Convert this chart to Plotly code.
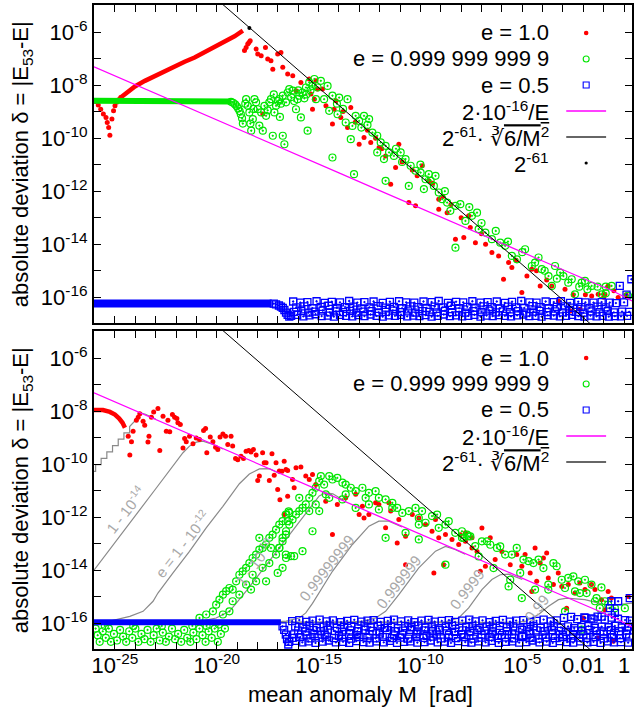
import plotly.graph_objects as go

# ---------------- axes -------------------------------------------------------
LOGM_RANGE = [-26.03, 0.39]      # log10 of mean anomaly M [rad]
LOGD_RANGE = [-16.97, -4.98]     # log10 of absolute deviation
x_tick_exp = list(range(-26, 1))
x_tick_text = {-25: "10<sup>-25</sup>", -20: "10<sup>-20</sup>", -15: "10<sup>-15</sup>",
               -10: "10<sup>-10</sup>", -5: "10<sup>-5</sup>", -2: "0.01", 0: "1"}
y_tick_exp = list(range(-17, -4))
y_tick_text = {-6: "10<sup>-6</sup>", -8: "10<sup>-8</sup>", -10: "10<sup>-10</sup>",
               -12: "10<sup>-12</sup>", -14: "10<sup>-14</sup>", -16: "10<sup>-16</sup>"}

# ---------------- data: (log10 M, log10 delta) ----------
# reference lines (same in both panels)
magenta_logM = [-26.03, -24, -22, -20, -18, -16, -14, -12, -10, -8, -6, -4, -3, -2, -1, -0.5, 0, 0.39]
magenta_logd = [-7.31, -7.98, -8.65, -9.31, -9.98, -10.65, -11.31, -11.98, -12.65, -13.31,
                -13.97, -14.63, -14.96, -15.28, -15.62, -15.78, -15.98, -16.14]
black_logM = [-19.75, -1.55]
black_logd = [-4.93, -17.07]
black_dot = [(-18.4, -5.85)]

# ---- top panel ----
top_red_dip = [(-25.95, -8.62), (-25.82, -8.75), (-25.70, -8.91), (-25.57, -9.09), (-25.44, -9.22),
               (-25.38, -9.41), (-25.31, -9.60), (-25.25, -9.89), (-25.15, -9.28), (-25.07, -8.97),
               (-25.00, -8.78), (-24.92, -8.65), (-24.82, -8.55), (-24.72, -8.47)]
top_red_rise = [(-24.72, -8.47), (-24.43, -8.28), (-24.02, -8.05), (-23.53, -7.84), (-23.04, -7.65),
                (-22.56, -7.46), (-22.07, -7.27), (-21.58, -7.12), (-21.09, -6.96), (-20.60, -6.77),
                (-20.11, -6.58), (-19.62, -6.37), (-19.13, -6.16), (-18.72, -5.95)]
top_green_plateau = [(-26.03, -8.59), (-22.0, -8.59), (-19.5, -8.60), (-19.3, -8.62)]
top_green_drop = [(-19.3, -8.63), (-19.2, -8.67), (-19.1, -8.73), (-19.02, -8.80), (-18.95, -8.88),
                  (-18.88, -8.98), (-18.82, -9.10), (-18.76, -9.25), (-18.72, -9.45)]
top_red_scatter = [
    (-18.64, -6.70), (-18.56, -6.58), (-18.48, -6.45), (-18.42, -6.39), (-18.36, -6.33), (-18.07, -6.64),
    (-17.99, -6.83), (-17.82, -6.89), (-17.61, -6.58), (-17.50, -7.02), (-17.34, -7.08), (-17.25, -7.40),
    (-17.01, -6.83), (-16.85, -6.77), (-16.76, -7.33), (-16.52, -7.58), (-16.27, -7.65), (-16.11, -8.21),
    (-15.87, -7.90), (-15.38, -8.34), (-15.21, -8.53), (-15.13, -7.84), (-15.05, -8.15), (-17.74, -9.09),
    (-15.30, -8.91), (-15.46, -7.77),
    (-14.81, -8.15), (-14.64, -8.78), (-14.24, -8.91), (-14.15, -8.59), (-14.32, -9.47), (-13.91, -9.22),
    (-13.58, -9.60), (-13.42, -8.84), (-13.01, -10.23), (-12.77, -9.98), (-12.44, -10.16), (-12.03, -10.35),
    (-11.71, -10.67), (-11.22, -11.11), (-11.06, -10.23), (-11.46, -11.74), (-10.57, -12.43), (-10.16, -11.42),
    (-9.91, -11.04), (-9.59, -11.61), (-9.10, -12.68), (-8.69, -12.81), (-8.28, -13.81), (-7.87, -13.75),
    (-7.55, -13.37), (-7.30, -13.94), (-6.49, -14.31), (-6.16, -14.44), (-5.92, -15.32), (-5.67, -14.69),
    (-5.51, -14.88), (-5.02, -15.82), (-4.77, -15.20), (-4.53, -14.94), (-4.12, -15.57), (-3.55, -15.57),
    (-3.22, -16.14), (-2.65, -16.52), (-2.16, -16.45), (-1.59, -15.95), (-1.27, -15.89), (-0.94, -15.89),
    (-0.78, -15.57), (-0.29, -16.01), (-9.10, -12.30), (-10.24, -12.55), (-7.63, -12.93),
    (-13.8, -9.0), (-13.2, -9.4), (-12.6, -9.7), (-12.2, -10.0), (-11.9, -10.4), (-10.9, -10.9),
    (-10.4, -11.2), (-9.4, -11.7), (-8.9, -12.2), (-8.5, -12.5), (-8.0, -13.0), (-7.0, -13.6),
    (-6.8, -14.0), (-5.3, -14.6), (-4.3, -15.0), (-3.8, -15.35), (-2.9, -15.7), (-2.5, -15.9),
    (-1.9, -15.9), (-1.0, -16.0), (0.1, -15.9), (-0.5, -15.75)]
top_green_scatter = [
    (-18.56, -8.53), (-18.48, -8.78), (-18.40, -9.03), (-18.31, -9.72), (-18.23, -9.28), (-18.15, -8.53),
    (-18.07, -8.65), (-17.99, -8.91), (-17.91, -9.53), (-17.82, -9.03), (-17.74, -9.72), (-17.66, -8.78),
    (-17.58, -9.16), (-17.42, -8.65), (-17.34, -8.53), (-17.25, -9.91), (-17.17, -9.03), (-17.09, -8.78),
    (-16.93, -8.53), (-16.76, -8.40), (-16.68, -10.23), (-16.60, -8.65), (-16.52, -8.28), (-16.44, -8.15),
    (-16.27, -8.21), (-16.11, -8.91), (-16.03, -8.53), (-15.95, -8.40), (-15.87, -9.22), (-15.79, -8.28),
    (-15.62, -8.09), (-15.54, -9.72), (-15.46, -7.90), (-15.30, -8.03), (-15.21, -7.77), (-15.13, -8.53),
    (-15.05, -8.09), (-16.76, -9.91), (-18.60, -8.70), (-18.20, -8.90), (-17.50, -8.95), (-17.00, -8.60),
    (-16.85, -8.70), (-16.35, -8.45), (-16.20, -8.60), (-15.70, -8.50), (-15.40, -8.20), (-18.35, -9.45),
    (-17.20, -8.35), (-16.90, -9.20), (-16.00, -8.20), (-15.60, -8.35),
    (-14.89, -7.84), (-14.56, -8.03), (-14.73, -8.53), (-14.32, -8.40), (-13.99, -8.47), (-13.58, -8.53),
    (-14.48, -8.97), (-14.07, -9.10), (-13.67, -9.41), (-13.34, -9.54), (-13.42, -10.04), (-13.18, -9.16),
    (-13.01, -9.35), (-12.77, -9.16), (-12.52, -9.28), (-12.36, -9.79), (-12.12, -9.91), (-11.95, -10.16),
    (-11.71, -10.29), (-11.54, -10.54), (-12.12, -10.54), (-11.79, -10.79), (-11.30, -10.67), (-10.97, -10.54),
    (-10.73, -10.79), (-10.48, -11.04), (-10.24, -11.23), (-9.99, -11.30), (-9.75, -11.55), (-9.59, -11.36),
    (-9.34, -11.80), (-9.26, -11.42), (-9.10, -12.05), (-8.93, -12.30), (-8.69, -12.43), (-8.53, -12.74),
    (-8.28, -12.55), (-8.04, -12.49), (-7.79, -13.12), (-7.47, -12.93), (-7.22, -12.81), (-7.14, -13.43),
    (-6.81, -13.56), (-6.49, -13.81), (-6.08, -13.94), (-5.84, -14.06), (-5.51, -14.44), (-5.26, -14.57),
    (-4.86, -14.19), (-4.53, -14.82), (-4.37, -14.69), (-4.04, -14.94), (-3.71, -15.20), (-3.55, -15.57),
    (-3.39, -14.82), (-3.14, -15.07), (-2.98, -15.20), (-2.74, -15.45), (-2.57, -15.32), (-2.41, -15.89),
    (-2.08, -15.45), (-1.92, -15.38), (-1.59, -15.57), (-1.10, -15.89), (-0.61, -15.57), (-0.90, -15.60),
    (-14.32, -10.73), (-13.26, -11.36), (-8.28, -14.13), (-11.71, -11.61), (-10.57, -11.80), (-9.83, -11.92),
    (-14.1, -8.7), (-13.8, -8.9), (-12.9, -9.6), (-12.6, -9.5), (-11.2, -10.4), (-10.9, -10.9),
    (-10.0, -11.0), (-9.5, -11.6), (-8.8, -12.0), (-7.6, -12.6), (-7.0, -13.2), (-6.3, -13.5),
    (-5.7, -13.9), (-5.0, -14.3), (-4.2, -14.5), (-3.9, -15.0), (-3.3, -15.3), (-2.2, -15.6),
    (-1.8, -15.7), (-1.3, -15.6), (-0.9, -15.85), (0.2, -15.95)]
top_blue_plateau = [(-26.03, -16.23), (-17.3, -16.23)]
top_blue_dip = [(-17.2, -16.24), (-17.09, -16.27), (-16.95, -16.31), (-16.85, -16.35), (-16.76, -16.40),
                (-16.68, -16.48), (-16.60, -16.58), (-16.52, -16.66), (-16.44, -16.73)]
top_blue_row1_logM = [-16.25, -15.9, -15.55, -15.1, -14.7, -14.35, -13.95, -13.5, -13.1, -12.75, -12.3, -11.85,
                      -11.5, -11.05, -10.7, -10.3, -9.85, -9.45, -9.1, -8.65, -8.25, -7.9, -7.45, -7.05, -6.7,
                      -6.25, -5.85, -5.5, -5.05, -4.65, -4.3, -3.85, -3.45, -3.1, -2.65, -2.25, -1.9, -1.5,
                      -1.1, -0.7, -0.4, 0.0]
top_blue_row1_logd = [-16.16, -16.20, -16.18, -16.15, -16.21, -16.17, -16.19, -16.14, -16.20, -16.18, -16.16,
                      -16.21, -16.17, -16.15, -16.19, -16.20, -16.16, -16.18, -16.14, -16.21, -16.17, -16.19,
                      -16.15, -16.20, -16.18, -16.16, -16.21, -16.17, -16.14, -16.19, -16.20, -16.16, -16.18,
                      -16.15, -16.21, -16.17, -16.19, -16.20, -16.18, -16.20, -16.22, -16.19]
top_blue_row2_logM = [-16.1, -15.7, -15.3, -14.9, -14.5, -14.1, -13.7, -13.3, -12.9, -12.5, -12.1, -11.7, -11.3,
                      -10.9, -10.5, -10.1, -9.7, -9.3, -8.9, -8.5, -8.1, -7.7, -7.3, -6.9, -6.5, -6.1, -5.7,
                      -5.3, -4.9, -4.5, -4.1, -3.7, -3.3, -2.9, -2.5, -2.1, -1.7, -1.3, -0.9]
top_blue_row2_logd = [-16.38, -16.34, -16.41, -16.36, -16.32, -16.40, -16.37, -16.35, -16.42, -16.38, -16.33,
                      -16.39, -16.36, -16.41, -16.34, -16.37, -16.40, -16.35, -16.38, -16.32, -16.41, -16.36,
                      -16.39, -16.34, -16.37, -16.42, -16.35, -16.38, -16.40, -16.33, -16.37, -16.41, -16.36,
                      -16.34, -16.39, -16.37, -16.40, -16.35, -16.38]
top_blue_row4 = [(-16.2, -16.55), (-15.85, -16.52), (-15.5, -16.58), (-15.2, -16.54), (-14.8, -16.50),
                 (-14.45, -16.57), (-14.15, -16.53), (-13.8, -16.56), (-13.45, -16.51), (-13.15, -16.58),
                 (-12.8, -16.54), (-12.4, -16.52), (-12.05, -16.57), (-11.7, -16.55), (-11.35, -16.50),
                 (-11.0, -16.56), (-10.6, -16.53), (-10.25, -16.58), (-9.9, -16.52), (-9.55, -16.55),
                 (-9.2, -16.57), (-8.8, -16.51), (-8.45, -16.56), (-8.1, -16.54), (-7.8, -16.58),
                 (-7.4, -16.52), (-7.0, -16.55), (-6.6, -16.50), (-6.3, -16.57), (-5.95, -16.53),
                 (-5.6, -16.56), (-5.2, -16.52), (-4.8, -16.58), (-4.45, -16.54), (-4.15, -16.51),
                 (-3.8, -16.56), (-3.4, -16.53), (-3.0, -16.57), (-2.7, -16.52), (-2.35, -16.55),
                 (-2.0, -16.58), (-1.6, -16.53), (-1.2, -16.56), (-0.8, -16.52), (-0.5, -16.57),
                 (-0.1, -16.54), (0.25, -16.55)]
top_blue_row3_logM = [-16.35, -16.05, -15.75, -15.45, -15.15, -14.85, -14.55, -14.25, -13.95, -13.65, -13.35,
                      -13.05, -12.75, -12.45, -12.15, -11.85, -11.55, -11.25, -10.95, -10.65, -10.35, -10.05,
                      -9.75, -9.45, -9.15, -8.85, -8.55, -8.25, -7.95, -7.65, -7.35, -7.05, -6.75, -6.45,
                      -6.15, -5.85, -5.55, -5.25, -4.95, -4.65, -4.35, -4.05, -3.75, -3.45, -3.15, -2.85,
                      -2.55, -2.25, -1.95, -1.65, -1.35, -1.05, -0.75, -0.45, -0.15, 0.15]
top_blue_row3_logd = [-16.70, -16.66, -16.72, -16.68, -16.64, -16.71, -16.69, -16.73, -16.66, -16.70, -16.72,
                      -16.67, -16.71, -16.65, -16.70, -16.73, -16.68, -16.70, -16.66, -16.72, -16.69, -16.71,
                      -16.67, -16.73, -16.70, -16.65, -16.71, -16.68, -16.72, -16.70, -16.66, -16.73, -16.69,
                      -16.71, -16.67, -16.70, -16.72, -16.68, -16.65, -16.71, -16.70, -16.73, -16.67, -16.69,
                      -16.72, -16.70, -16.66, -16.71, -16.73, -16.69, -16.72, -16.70, -16.73, -16.71, -16.72,
                      -16.70]
top_blue_extra = [(-0.21, -15.57), (0.12, -15.90), (0.36, -15.32)]

# ---- bottom panel ----
bot_red_arc = [(-26.03, -7.96), (-25.93, -7.96), (-25.59, -7.96), (-25.25, -8.03), (-25.0, -8.13),
               (-24.79, -8.28), (-24.63, -8.44), (-24.51, -8.63)]
bot_red_scatter = [
    (-24.35, -8.95), (-24.19, -9.16), (-24.27, -9.66), (-24.11, -8.76), (-23.95, -8.35), (-23.86, -8.23),
    (-23.78, -8.10), (-23.62, -8.38), (-23.54, -8.53), (-23.33, -8.95), (-23.38, -9.17), (-23.21, -8.23),
    (-23.10, -8.03), (-22.89, -7.90), (-22.80, -9.49), (-22.64, -8.19), (-22.48, -8.76), (-22.40, -8.35),
    (-22.31, -8.78), (-22.18, -8.13), (-22.07, -8.23), (-21.96, -8.28), (-21.91, -8.44), (-21.79, -8.51),
    (-21.58, -9.03), (-21.50, -9.16), (-21.66, -9.39), (-21.34, -8.95), (-21.17, -9.23), (-21.01, -9.01),
    (-20.85, -9.07), (-20.65, -8.73), (-20.55, -8.66), (-20.49, -9.57), (-20.32, -8.98), (-20.19, -9.16),
    (-20.06, -9.36), (-19.95, -9.45), (-19.84, -8.98), (-19.70, -8.86), (-19.57, -8.95), (-19.46, -9.26),
    (-19.30, -8.95), (-19.22, -9.32), (-19.08, -9.79), (-18.97, -9.83), (-18.81, -9.70), (-18.69, -9.79),
    (-18.56, -9.51), (-18.43, -9.49), (-18.32, -9.54), (-18.20, -9.45), (-18.07, -9.66), (-17.99, -10.62),
    (-17.91, -10.45), (-17.75, -9.57), (-17.67, -9.95), (-17.58, -9.95), (-17.42, -10.62), (-17.29, -9.61),
    (-17.18, -10.42), (-17.09, -9.95), (-17.01, -10.96), (-16.90, -11.34), (-16.80, -10.27), (-16.69, -9.89),
    (-16.52, -10.24),
    (-16.93, -10.26), (-16.60, -10.20), (-16.11, -10.14), (-15.87, -10.11), (-16.28, -10.58), (-15.63, -10.45),
    (-15.46, -10.58), (-15.30, -10.39), (-15.14, -10.77), (-16.52, -11.21), (-16.20, -10.89), (-14.65, -11.40),
    (-14.32, -12.65), (-14.08, -11.52), (-13.67, -11.27), (-13.18, -11.14), (-13.01, -11.90), (-12.85, -11.59),
    (-12.53, -11.90), (-12.20, -11.46), (-12.04, -11.52), (-11.71, -12.40), (-11.46, -11.77), (-11.14, -12.97),
    (-11.06, -12.09), (-10.73, -12.72), (-10.40, -11.90), (-10.08, -12.03), (-9.75, -12.28), (-9.43, -12.53),
    (-9.26, -12.09), (-9.10, -12.78), (-8.77, -12.65), (-8.45, -12.84), (-8.12, -13.03), (-7.79, -12.91),
    (-7.47, -13.16), (-10.73, -13.79), (-9.34, -14.10), (-8.86, -13.79), (-16.69, -11.90), (-11.55, -11.46),
    (-12.77, -12.03),
    (-8.04, -12.66), (-7.79, -12.59), (-7.47, -12.78), (-7.22, -13.29), (-7.06, -14.04), (-6.98, -12.41),
    (-6.81, -13.85), (-6.57, -12.78), (-6.33, -13.60), (-6.00, -13.29), (-5.59, -13.79), (-5.27, -13.41),
    (-5.02, -13.85), (-4.86, -13.41), (-4.61, -14.10), (-4.53, -14.80), (-4.29, -14.42), (-4.12, -13.73),
    (-3.96, -13.54), (-3.72, -14.29), (-3.47, -14.54), (-3.23, -14.10), (-3.06, -14.61), (-2.82, -15.43),
    (-2.74, -14.54), (-2.41, -14.86), (-2.17, -14.48), (-1.92, -14.73), (-1.60, -14.54), (-1.43, -14.73),
    (-1.11, -15.11), (-0.78, -14.80), (-0.62, -15.05), (-2.00, -15.80), (-1.27, -16.56), (0.20, -14.99),
    (-0.94, -15.49), (-0.53, -16.68), (-4.37, -13.16), (-3.80, -13.35)]
bot_green_low = [
    (-25.95, -16.20), (-25.85, -16.45), (-25.75, -16.70), (-25.60, -16.30), (-25.45, -16.55), (-25.30, -16.20),
    (-25.20, -16.70), (-25.05, -16.40), (-24.90, -16.65), (-24.75, -16.25), (-24.60, -16.50), (-24.45, -16.70),
    (-24.30, -16.30), (-24.15, -16.55), (-24.00, -16.20), (-23.85, -16.70), (-23.70, -16.40), (-23.55, -16.60),
    (-23.40, -16.25), (-23.25, -16.70), (-23.10, -16.45), (-22.95, -16.20), (-22.80, -16.65), (-22.65, -16.35),
    (-22.50, -16.70), (-22.35, -16.50), (-22.20, -16.20), (-22.05, -16.60), (-21.90, -16.40), (-21.75, -16.70),
    (-21.60, -16.25), (-21.45, -16.55), (-21.30, -16.70), (-21.15, -16.35), (-21.00, -16.60), (-20.85, -16.20),
    (-20.70, -16.45), (-20.55, -16.70), (-20.40, -16.30), (-20.25, -16.55), (-20.10, -16.20), (-19.95, -16.70),
    (-19.80, -16.40), (-19.60, -16.20), (-19.90, -16.05), (-20.50, -16.10), (-21.20, -16.10), (-22.70, -16.10),
    (-24.10, -16.10), (-25.50, -16.10)]
bot_green_rise = [
    (-20.85, -15.80), (-20.52, -15.67), (-20.19, -15.55), (-20.03, -15.30), (-19.87, -15.11), (-19.70, -14.92),
    (-19.54, -14.79), (-19.38, -14.67), (-19.22, -14.73), (-19.05, -14.42), (-18.89, -14.17), (-18.73, -14.04),
    (-18.56, -13.91), (-18.40, -13.73), (-18.24, -13.54), (-18.07, -13.41), (-17.91, -13.22), (-17.75, -13.16),
    (-17.58, -13.03), (-17.42, -12.78), (-17.26, -12.66), (-17.09, -12.47), (-16.93, -12.28), (-16.77, -12.15),
    (-16.61, -11.90), (-16.44, -11.84), (-19.22, -15.17), (-18.89, -14.92), (-18.56, -14.54), (-18.24, -14.17),
    (-18.07, -14.42), (-17.75, -13.91), (-17.58, -14.42), (-17.42, -13.73), (-17.09, -13.41), (-16.93, -13.16),
    (-16.77, -12.91), (-16.61, -12.66), (-17.91, -12.78), (-17.34, -13.16), (-17.01, -14.10), (-16.61, -13.41),
    (-18.32, -14.73), (-19.70, -15.67), (-19.38, -15.55), (-16.52, -12.15), (-16.47, -11.78),
    (-16.93, -13.16), (-16.77, -12.78), (-16.60, -12.53), (-16.44, -12.28), (-16.28, -12.09), (-16.11, -11.90),
    (-15.95, -11.77), (-15.79, -11.65), (-15.63, -11.52), (-15.46, -11.27), (-15.30, -11.08), (-15.14, -10.89),
    (-14.97, -10.64), (-14.89, -10.45), (-14.73, -10.77), (-14.48, -10.45), (-14.32, -10.58), (-14.08, -10.52),
    (-13.83, -10.70), (-13.67, -10.77), (-13.42, -10.89), (-13.18, -11.02), (-12.85, -10.89), (-12.53, -11.08),
    (-12.20, -11.02), (-12.04, -11.27), (-11.71, -11.33), (-11.38, -11.46), (-11.14, -11.65), (-10.89, -11.84),
    (-10.57, -11.77), (-10.24, -11.65), (-10.08, -12.28), (-9.75, -12.21), (-9.43, -11.96), (-9.10, -12.40),
    (-8.77, -12.28), (-8.61, -12.15), (-8.29, -12.59), (-7.96, -12.78), (-7.63, -12.72), (-7.31, -13.09),
    (-16.60, -13.54), (-16.36, -13.47), (-16.20, -13.47), (-15.79, -13.28), (-15.30, -12.53), (-14.97, -11.77),
    (-14.48, -11.27), (-13.83, -11.33), (-13.18, -11.65), (-12.69, -11.27), (-12.04, -11.71), (-11.71, -12.78),
    (-10.73, -12.59), (-10.08, -12.84), (-8.77, -13.79), (-9.92, -11.77), (-9.18, -11.90), (-16.77, -13.91),
    (-15.95, -11.27), (-15.46, -11.77), (-15.14, -11.52), (-14.65, -11.14), (-13.67, -11.14), (-12.53, -11.52),
    (-11.38, -11.65), (-10.08, -12.03),
    (-7.96, -12.53), (-7.71, -12.66), (-7.55, -12.72), (-7.88, -12.78), (-7.14, -13.48), (-6.98, -12.91),
    (-6.73, -12.91), (-6.57, -13.04), (-6.41, -13.92), (-6.24, -13.16), (-6.08, -13.10), (-5.84, -13.41),
    (-5.67, -14.61), (-5.51, -13.41), (-5.27, -13.16), (-5.10, -14.10), (-4.94, -13.60), (-4.69, -13.66),
    (-4.45, -13.73), (-4.20, -13.60), (-3.96, -13.92), (-3.72, -14.54), (-3.47, -13.73), (-3.31, -13.85),
    (-3.06, -14.36), (-2.74, -14.29), (-2.49, -14.23), (-2.25, -14.42), (-1.92, -14.36), (-1.60, -14.54),
    (-1.35, -15.05), (-1.11, -14.65), (-0.94, -15.17), (-0.78, -15.30), (-0.45, -15.43), (0.04, -15.43),
    (-2.90, -14.67), (-2.17, -14.86), (-1.84, -14.86), (-1.43, -15.17), (-1.19, -15.43), (-5.59, -14.36),
    (-5.02, -15.05), (-4.37, -14.73), (-3.72, -14.73), (-2.41, -14.80), (-2.08, -16.24), (-2.90, -15.55)]
bot_blue_plateau = [(-26.03, -15.96), (-16.85, -15.96)]
bot_blue_dip = [(-16.77, -16.12), (-16.69, -16.25), (-16.61, -16.43), (-16.55, -16.60), (-16.49, -16.80)]
bot_blue_rowA_logM = [-16.3, -15.95, -15.6, -15.3, -14.95, -14.6, -14.3, -13.9, -13.6, -13.25, -12.9, -12.6,
                      -12.3, -11.95, -11.6, -11.3, -10.95, -10.6, -10.3, -9.95, -9.6, -9.3, -8.95, -8.6, -8.3,
                      -7.95, -7.6, -7.3, -6.95, -6.6, -6.3, -5.95, -5.6, -5.3, -4.95, -4.6, -4.3, -3.95, -3.6,
                      -3.3, -2.95, -2.6, -2.3, -1.95, -1.6, -1.3, -0.95, -0.6, -0.3, 0.05, 0.3]
bot_blue_rowA_logd = [-15.92, -15.88, -15.95, -15.90, -15.86, -15.93, -15.89, -15.96, -15.91, -15.87, -15.94,
                      -15.90, -15.88, -15.95, -15.91, -15.86, -15.93, -15.89, -15.96, -15.90, -15.87, -15.94,
                      -15.91, -15.88, -15.95, -15.90, -15.86, -15.93, -15.89, -15.96, -15.91, -15.87, -15.94,
                      -15.90, -15.88, -15.95, -15.91, -15.86, -15.93, -15.89, -15.80, -15.76, -15.84, -15.78,
                      -15.82, -15.75, -15.86, -15.79, -15.83, -15.88, -15.90]
bot_blue_rowB_logM = [-16.15, -15.75, -15.45, -15.1, -14.75, -14.45, -14.1, -13.75, -13.4, -13.05, -12.75,
                      -12.45, -12.1, -11.75, -11.45, -11.1, -10.75, -10.45, -10.1, -9.75, -9.45, -9.1, -8.75,
                      -8.45, -8.1, -7.75, -7.45, -7.1, -6.75, -6.45, -6.1, -5.75, -5.45, -5.1, -4.75, -4.45,
                      -4.1, -3.75, -3.45, -3.1, -2.75, -2.45, -2.1, -1.75, -1.45, -1.1, -0.75, -0.45, -0.1, 0.2]
bot_blue_rowB_logd = [-16.12, -16.16, -16.10, -16.18, -16.13, -16.09, -16.17, -16.14, -16.11, -16.19, -16.12,
                      -16.15, -16.10, -16.17, -16.13, -16.18, -16.11, -16.15, -16.09, -16.16, -16.13, -16.19,
                      -16.12, -16.10, -16.17, -16.14, -16.11, -16.18, -16.13, -16.16, -16.10, -16.15, -16.12,
                      -16.19, -16.14, -16.11, -16.17, -16.13, -16.10, -16.16, -16.12, -16.18, -16.14, -16.11,
                      -16.17, -16.13, -16.15, -16.10, -16.16, -16.13]
bot_blue_rowE = [(-16.0, -16.28), (-15.65, -16.31), (-15.25, -16.26), (-14.9, -16.30), (-14.55, -16.25),
                 (-14.2, -16.29), (-13.85, -16.32), (-13.45, -16.27), (-13.1, -16.30), (-12.7, -16.25),
                 (-12.35, -16.29), (-12.0, -16.31), (-11.65, -16.26), (-11.25, -16.30), (-10.85, -16.28),
                 (-10.5, -16.25), (-10.15, -16.31), (-9.8, -16.27), (-9.4, -16.30), (-9.05, -16.26),
                 (-8.7, -16.29), (-8.3, -16.32), (-7.95, -16.27), (-7.55, -16.30), (-7.2, -16.25),
                 (-6.85, -16.29), (-6.45, -16.31), (-6.1, -16.26), (-5.75, -16.30), (-5.35, -16.28),
                 (-5.0, -16.25), (-4.65, -16.31), (-4.3, -16.27), (-3.9, -16.30), (-3.55, -16.26),
                 (-3.2, -16.29), (-2.85, -16.32), (-2.45, -16.27), (-2.1, -16.30), (-1.7, -16.25),
                 (-1.35, -16.29), (-1.0, -16.31), (-0.65, -16.26), (-0.25, -16.30), (0.15, -16.28)]
bot_blue_rowC_logM = [-16.2, -15.6, -15.2, -14.7, -14.0, -13.5, -13.1, -12.5, -12.0, -11.3, -10.9, -10.2, -9.7,
                      -9.2, -8.6, -8.0, -7.6, -7.0, -6.5, -6.0, -5.5, -5.0, -4.6, -4.0, -3.5, -3.0, -2.5, -2.0,
                      -1.5, -1.0, -0.5, 0.1]
bot_blue_rowC_logd = [-16.42, -16.46, -16.40, -16.44, -16.47, -16.41, -16.45, -16.42, -16.39, -16.46, -16.43,
                      -16.40, -16.47, -16.42, -16.44, -16.41, -16.46, -16.43, -16.39, -16.45, -16.42, -16.47,
                      -16.40, -16.44, -16.42, -16.46, -16.41, -16.43, -16.45, -16.40, -16.44, -16.42]
bot_blue_rowF = [(-16.3, -16.55), (-15.9, -16.52), (-15.4, -16.57), (-15.0, -16.54), (-14.6, -16.50),
                 (-14.25, -16.56), (-13.85, -16.53), (-13.4, -16.58), (-13.0, -16.52), (-12.6, -16.55),
                 (-12.2, -16.57), (-11.85, -16.51), (-11.4, -16.56), (-11.0, -16.54), (-10.6, -16.58),
                 (-10.2, -16.52), (-9.85, -16.55), (-9.4, -16.50), (-9.0, -16.57), (-8.6, -16.53),
                 (-8.25, -16.56), (-7.85, -16.52), (-7.4, -16.58), (-7.0, -16.54), (-6.6, -16.51),
                 (-6.2, -16.56), (-5.85, -16.53), (-5.4, -16.57), (-5.0, -16.52), (-4.6, -16.55),
                 (-4.2, -16.58), (-3.85, -16.53), (-3.4, -16.56), (-3.0, -16.52), (-2.6, -16.57),
                 (-2.2, -16.54), (-1.85, -16.55), (-1.4, -16.52), (-1.0, -16.57), (-0.6, -16.54),
                 (-0.2, -16.56), (0.25, -16.53)]
bot_blue_rowD_logM = [-16.45, -16.1, -15.8, -15.5, -15.15, -14.8, -14.5, -14.15, -13.8, -13.5, -13.15, -12.8,
                      -12.5, -12.15, -11.8, -11.5, -11.15, -10.8, -10.5, -10.15, -9.8, -9.5, -9.15, -8.8, -8.5,
                      -8.15, -7.8, -7.5, -7.15, -6.8, -6.5, -6.15, -5.8, -5.5, -5.15, -4.8, -4.5, -4.15, -3.8,
                      -3.5, -3.15, -2.8, -2.5, -2.15, -1.8, -1.5, -1.15, -0.8, -0.5, -0.15, 0.2]
bot_blue_rowD_logd = [-16.70, -16.66, -16.72, -16.68, -16.74, -16.69, -16.65, -16.72, -16.70, -16.74, -16.67,
                      -16.71, -16.73, -16.68, -16.72, -16.66, -16.74, -16.70, -16.68, -16.73, -16.71, -16.65,
                      -16.72, -16.69, -16.74, -16.67, -16.71, -16.73, -16.68, -16.72, -16.66, -16.74, -16.70,
                      -16.68, -16.73, -16.71, -16.65, -16.72, -16.69, -16.74, -16.67, -16.71, -16.73, -16.68,
                      -16.72, -16.70, -16.74, -16.68, -16.72, -16.71, -16.73]
bot_blue_extra = [(-0.62, -15.17), (-0.29, -15.17), (-0.70, -15.43), (-0.45, -15.61), (0.28, -15.05),
                  (-1.9, -15.80), (-1.5, -15.85), (-1.1, -15.75)]

# grey iso-eccentricity curves in the lower panel
curve_names = ["1 - 10<sup>-16</sup>", "1 - 10<sup>-14</sup>", "e = 1 - 10<sup>-12</sup>",
               "1 - 10<sup>-10</sup>", "0.99999999", "0.999999", "0.9999", "0.99"]
curve_e16 = [(-26.03, -10.27), (-25.95, -10.27), (-25.95, -10.02), (-25.68, -10.02), (-25.68, -9.78),
             (-25.40, -9.78), (-25.40, -9.54), (-25.12, -9.54), (-25.12, -9.30), (-24.84, -9.30),
             (-24.84, -9.06), (-24.56, -9.06), (-24.56, -8.82), (-24.28, -8.82), (-24.28, -8.58),
             (-24.0, -8.35), (-23.78, -8.06), (-23.5, -8.12), (-23.0, -8.30)]
curve_e14 = [(-26.03, -14.0), (-25.94, -13.91), (-24.6, -12.56), (-22.97, -10.90), (-21.66, -9.57),
             (-21.34, -9.32), (-21.01, -9.17), (-20.68, -9.13), (-20.19, -9.26), (-19.7, -9.43)]
curve_e12 = [(-26.03, -15.97), (-25.25, -15.92), (-24.27, -15.74), (-23.62, -15.55), (-23.13, -15.17),
             (-22.89, -14.86), (-22.15, -14.10), (-21.34, -13.29), (-20.52, -12.40), (-19.70, -11.59),
             (-18.89, -10.74), (-18.40, -10.37), (-17.91, -10.18), (-17.42, -10.17), (-16.9, -10.36)]
curve_e10 = [(-26.03, -15.97), (-20.85, -15.93), (-20.03, -15.80), (-19.38, -15.55), (-18.97, -15.17),
             (-18.56, -14.79), (-17.5, -13.73), (-16.5, -12.73), (-15.5, -11.70), (-14.97, -11.2),
             (-14.65, -11.08), (-14.3, -11.12), (-13.8, -11.35)]
curve_e8 = [(-26.03, -15.97), (-17.2, -15.96), (-16.6, -15.92), (-15.95, -15.80), (-15.63, -15.61),
            (-15.3, -15.25), (-14.32, -14.04), (-13.34, -13.03), (-12.53, -12.34), (-12.04, -12.15),
            (-11.55, -12.15), (-10.9, -12.37)]
curve_e6 = [(-26.03, -15.97), (-13.4, -15.96), (-12.85, -15.92), (-12.20, -15.80), (-11.71, -15.55),
            (-11.06, -14.92), (-10.08, -13.91), (-9.26, -13.28), (-8.77, -13.10), (-8.3, -13.22), (-7.8, -13.4)]
curve_e4 = [(-26.03, -15.97), (-9.3, -15.97), (-8.77, -15.95), (-8.12, -15.80), (-7.63, -15.42),
            (-6.98, -14.73), (-6.49, -14.35), (-6.08, -14.17), (-5.67, -14.15), (-5.0, -14.35)]
curve_e2 = [(-26.03, -15.97), (-5.4, -15.97), (-4.86, -15.93), (-4.20, -15.67), (-3.71, -15.36),
            (-3.22, -15.11), (-2.82, -15.05), (-1.92, -15.11), (-0.94, -15.30), (-0.29, -15.30), (0.39, -15.24)]
grey_curves = [curve_e16, curve_e14, curve_e12, curve_e10, curve_e8, curve_e6, curve_e4, curve_e2]
# label anchor positions (log10 M, log10 delta) of the grey curve labels
curve_label_pos = [None, (-24.51, -11.70), (-21.72, -12.98), (-18.15, -13.66), (-14.63, -13.92),
                   (-11.06, -14.42), (-7.73, -14.72), (-4.31, -15.43)]

legend_top = ["e = 1.0", "e = 0.999 999 999 9", "e = 0.5", "2·10<sup>-16</sup>/E",
              "2<sup>-61</sup>· ∛<span style='text-decoration:overline'>6/M<sup>2</sup></span>", "2<sup>-61</sup>"]
legend_bottom = legend_top[:5]

# ---------------- styles --------------------------------------------------------
RED, GREEN, BLUE, MAGENTA = "#ff0000", "#00e600", "#0000ff", "#ff00ff"
FONT = "Liberation Sans, Arial, sans-serif"
W, H = 635, 711
ML, MR, MT, MB = 94, 1, 5, 62
PW, PH = W - ML - MR, H - MT - MB
TOP_DOM = [0.5062, 1.0]
BOT_DOM = [0.0, 0.4938]


def unzip(pairs):
    return [10 ** p[0] for p in pairs], [10 ** p[1] for p in pairs]


def pw(v):
    return [10 ** a for a in v]


fig = go.Figure()


def add(pairs=None, xs=None, ys=None, panel=1, **kw):
    if pairs is not None:
        x, y = unzip(pairs)
    else:
        x, y = pw(xs), pw(ys)
    xa, ya = ("x", "y") if panel == 1 else ("x2", "y2")
    fig.add_trace(go.Scatter(x=x, y=y, xaxis=xa, yaxis=ya, showlegend=False, hoverinfo="skip", **kw))


red_m = dict(mode="markers", marker=dict(symbol="circle", size=5, color=RED, line=dict(width=0)))
green_m = dict(mode="markers", marker=dict(symbol="circle-open-dot", size=7, color=GREEN, line=dict(width=1.2)))
blue_m = dict(mode="markers", marker=dict(symbol="square-open-dot", size=7, color=BLUE, line=dict(width=1.3)))

# ---- bottom panel: grey curves first ----
for c in grey_curves:
    add(pairs=c, panel=2, mode="lines", line=dict(color="#8a8a8a", width=1.2))

# ---- top panel ----
add(pairs=top_red_rise, panel=1, mode="lines", line=dict(color=RED, width=4.5))
add(pairs=top_red_dip, panel=1, **red_m)
add(pairs=top_red_scatter, panel=1, **red_m)
add(pairs=top_green_plateau, panel=1, mode="lines", line=dict(color=GREEN, width=6))
add(pairs=top_green_drop, panel=1, **green_m)
add(pairs=top_green_scatter, panel=1, **green_m)
add(pairs=top_blue_plateau, panel=1, mode="lines", line=dict(color=BLUE, width=8))
add(pairs=top_blue_dip, panel=1, **blue_m)
add(xs=top_blue_row1_logM, ys=top_blue_row1_logd, panel=1, **blue_m)
add(xs=top_blue_row2_logM, ys=top_blue_row2_logd, panel=1, **blue_m)
add(pairs=top_blue_row4, panel=1, **blue_m)
add(xs=top_blue_row3_logM, ys=top_blue_row3_logd, panel=1, **blue_m)
add(pairs=top_blue_extra, panel=1, **blue_m)
add(xs=magenta_logM, ys=magenta_logd, panel=1, mode="lines", line=dict(color=MAGENTA, width=1.2))
add(xs=black_logM, ys=black_logd, panel=1, mode="lines", line=dict(color="black", width=1))
add(pairs=black_dot, panel=1, mode="markers", marker=dict(size=4, color="black"))

# ---- bottom panel ----
add(pairs=bot_red_arc, panel=2, mode="lines", line=dict(color=RED, width=4.5))
add(pairs=bot_red_scatter, panel=2, **red_m)
add(pairs=bot_green_low, panel=2, **green_m)
add(pairs=bot_green_rise, panel=2, **green_m)
add(pairs=bot_blue_plateau, panel=2, mode="lines", line=dict(color=BLUE, width=6))
add(pairs=bot_blue_dip, panel=2, **blue_m)
add(xs=bot_blue_rowA_logM, ys=bot_blue_rowA_logd, panel=2, **blue_m)
add(xs=bot_blue_rowB_logM, ys=bot_blue_rowB_logd, panel=2, **blue_m)
add(pairs=bot_blue_rowE, panel=2, **blue_m)
add(xs=bot_blue_rowC_logM, ys=bot_blue_rowC_logd, panel=2, **blue_m)
add(pairs=bot_blue_rowF, panel=2, **blue_m)
add(xs=bot_blue_rowD_logM, ys=bot_blue_rowD_logd, panel=2, **blue_m)
add(pairs=bot_blue_extra, panel=2, **blue_m)
add(xs=magenta_logM, ys=magenta_logd, panel=2, mode="lines", line=dict(color=MAGENTA, width=1.2))
add(xs=black_logM, ys=black_logd, panel=2, mode="lines", line=dict(color="black", width=1))

# ---------------- axes ----------------------------------------------------------
common = dict(type="log", showgrid=False, zeroline=False, showline=True, linecolor="black", linewidth=2,
              mirror="allticks", ticks="inside", ticklen=7, tickwidth=1.3, tickcolor="black",
              tickfont=dict(family=FONT, size=22, color="black"))
xt_vals = [10 ** k for k in x_tick_exp]
yt_vals = [10 ** k for k in y_tick_exp]
fig.update_layout(
    xaxis=dict(common, range=LOGM_RANGE, domain=[0, 1], anchor="y", tickvals=xt_vals,
               ticktext=["" for _ in x_tick_exp]),
    yaxis=dict(common, range=LOGD_RANGE, domain=TOP_DOM, anchor="x", tickvals=yt_vals,
               ticktext=[y_tick_text.get(k, "") for k in y_tick_exp]),
    xaxis2=dict(common, range=LOGM_RANGE, domain=[0, 1], anchor="y2", tickvals=xt_vals,
                ticktext=[x_tick_text.get(k, "") for k in x_tick_exp], ticklabelstandoff=-4),
    yaxis2=dict(common, range=LOGD_RANGE, domain=BOT_DOM, anchor="x2", tickvals=yt_vals,
                ticktext=[y_tick_text.get(k, "") for k in y_tick_exp]),
    width=W, height=H, margin=dict(l=ML, r=MR, t=MT, b=MB, pad=0),
    plot_bgcolor="white", paper_bgcolor="white",
    font=dict(family=FONT, size=22, color="black"),
)


def px(xp):
    return (xp - ML) / PW


def py(yp):
    return (H - MB - yp) / PH


ann = []
shapes = []
# axis titles
ytitle = "absolute deviation δ = |E<sub>53</sub>-E|"
ann.append(dict(text=ytitle, xref="paper", yref="paper", x=px(22), y=py(164), textangle=-90,
                showarrow=False, font=dict(size=22), xanchor="center", yanchor="middle"))
ann.append(dict(text=ytitle, xref="paper", yref="paper", x=px(22), y=py(490), textangle=-90,
                showarrow=False, font=dict(size=22), xanchor="center", yanchor="middle"))
ann.append(dict(text="mean anomaly M  [rad]", xref="paper", yref="paper", x=px(361), y=py(694),
                showarrow=False, font=dict(size=22), xanchor="center", yanchor="middle"))

# grey curve labels
for name, pos in zip(curve_names, curve_label_pos):
    if pos is None:
        continue
    ann.append(dict(text=name, xref="x2", yref="y2", x=pos[0], y=pos[1], textangle=-52, showarrow=False,
                    font=dict(size=15, color="#a8a8a8"), xanchor="center", yanchor="middle"))


# legends
def legend(rows, texts):
    kinds = ["red", "green", "blue", "mag", "black", "dot"]
    for yrow, t, k in zip(rows, texts, kinds):
        ann.append(dict(text=t, xref="paper", yref="paper", x=px(553), y=py(yrow), showarrow=False,
                        xanchor="right", yanchor="middle", font=dict(size=22)))
        cx, cy = 588, yrow
        if k == "red":
            shapes.append(dict(type="circle", xref="paper", yref="paper", x0=px(cx - 2.3), x1=px(cx + 2.3),
                               y0=py(cy + 2.3), y1=py(cy - 2.3), fillcolor=RED, line=dict(width=0)))
        elif k == "green":
            shapes.append(dict(type="circle", xref="paper", yref="paper", x0=px(cx - 3), x1=px(cx + 3),
                               y0=py(cy + 3), y1=py(cy - 3), line=dict(color=GREEN, width=1.1)))
        elif k == "blue":
            shapes.append(dict(type="rect", xref="paper", yref="paper", x0=px(cx - 3), x1=px(cx + 3),
                               y0=py(cy + 3), y1=py(cy - 3), line=dict(color=BLUE, width=1.1)))
        elif k == "mag":
            shapes.append(dict(type="line", xref="paper", yref="paper", x0=px(568), x1=px(608),
                               y0=py(cy), y1=py(cy), line=dict(color=MAGENTA, width=1.3)))
        elif k == "black":
            shapes.append(dict(type="line", xref="paper", yref="paper", x0=px(568), x1=px(608),
                               y0=py(cy), y1=py(cy), line=dict(color="#333333", width=1.6)))
        elif k == "dot":
            shapes.append(dict(type="circle", xref="paper", yref="paper", x0=px(cx - 1.6), x1=px(cx + 1.6),
                               y0=py(cy + 1.6), y1=py(cy - 1.6), fillcolor="black", line=dict(width=0)))


legend([33, 59, 85, 111, 137, 163], legend_top)
legend([358, 384, 410, 436, 462], legend_bottom)

fig.update_layout(annotations=ann, shapes=shapes)

fig.write_html("out.html", config={"displayModeBar": False},
               post_script="document.body.style.margin='0';")
